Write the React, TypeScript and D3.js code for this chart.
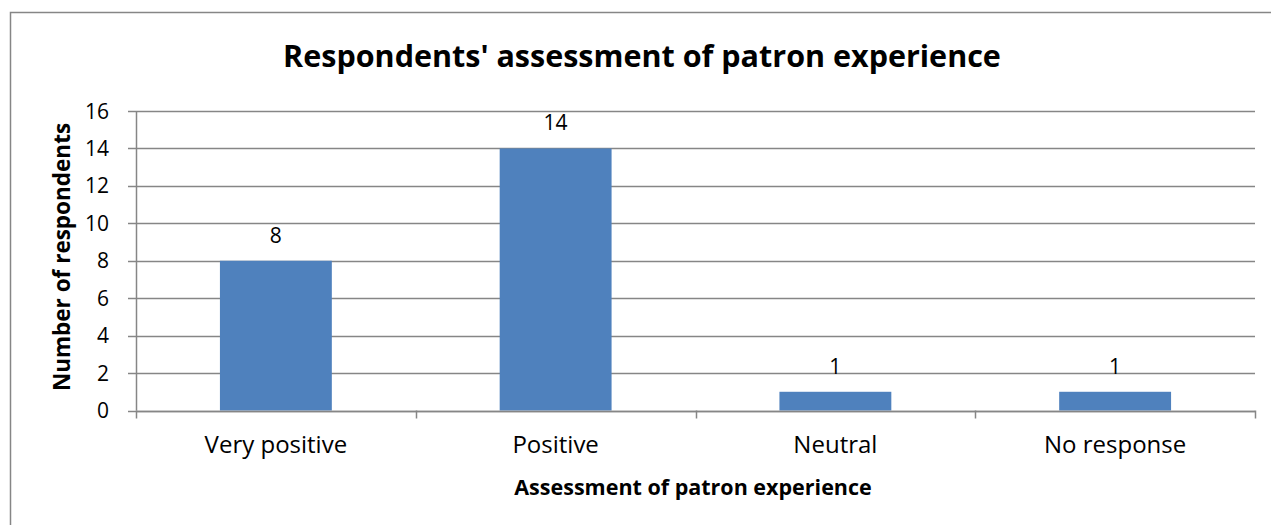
import * as d3 from 'd3';
import { useRef, useEffect } from 'react';

const categories = ['Very positive', 'Positive', 'Neutral', 'No response'];
const counts = [8, 14, 1, 1];
const yTicks = [0, 2, 4, 6, 8, 10, 12, 14, 16];

const title = "Respondents' assessment of patron experience";
const xTitle = 'Assessment of patron experience';
const yTitle = 'Number of respondents';

export default function App() {
  const ref = useRef<SVGSVGElement>(null);
  const width = 1271;
  const height = 525;
  const left = 136;
  const right = 1255;
  const top = 111;
  const bottom = 410.5;
  const grey = '#868686';
  const font = '"Open Sans", sans-serif';

  useEffect(() => {
    const svg = d3.select(ref.current);
    svg.selectAll('*').remove();

    const x = d3.scaleBand().domain(categories).range([left, right]).paddingInner(0.6).paddingOuter(0.3);
    const y = d3.scaleLinear().domain([0, 16]).range([bottom, top]);

    // chart border
    svg.append('rect')
      .attr('x', 10.5).attr('y', 12.5)
      .attr('width', 1300).attr('height', 600)
      .attr('fill', 'white').attr('stroke', grey).attr('stroke-width', 1.5);

    // gridlines + y ticks
    svg.append('g').selectAll('line')
      .data(yTicks)
      .join('line')
      .attr('x1', left - 8).attr('x2', right)
      .attr('y1', (d) => Math.round(y(d)) + 0.5).attr('y2', (d) => Math.round(y(d)) + 0.5)
      .attr('stroke', grey).attr('stroke-width', 1.5);

    svg.append('g').selectAll('text')
      .data(yTicks)
      .join('text')
      .attr('x', left - 27)
      .attr('y', (d) => y(d))
      .attr('dy', '0.36em')
      .attr('text-anchor', 'end')
      .attr('font-family', font).attr('font-size', 21)
      .text((d) => d);

    // bars
    svg.append('g').selectAll('rect')
      .data(counts)
      .join('rect')
      .attr('x', (d, i) => x(categories[i]) as number)
      .attr('width', x.bandwidth())
      .attr('y', (d) => y(d))
      .attr('height', (d) => y(0) - y(d))
      .attr('fill', '#4F81BD');

    // value labels
    svg.append('g').selectAll('text')
      .data(counts)
      .join('text')
      .attr('x', (d, i) => (x(categories[i]) as number) + x.bandwidth() / 2)
      .attr('y', (d) => y(d) - 18)
      .attr('text-anchor', 'middle')
      .attr('font-family', font).attr('font-size', 21)
      .text((d) => d);

    // axes lines
    svg.append('line')
      .attr('x1', left + 0.5).attr('x2', left + 0.5)
      .attr('y1', top).attr('y2', bottom)
      .attr('stroke', grey).attr('stroke-width', 1.5);

    const step = (right - left) / categories.length;
    const bounds = d3.range(categories.length + 1).map((i) => left + i * step);
    svg.append('line')
      .attr('x1', left).attr('x2', right)
      .attr('y1', Math.round(bottom) + 0.5).attr('y2', Math.round(bottom) + 0.5)
      .attr('stroke', grey).attr('stroke-width', 1.5);
    svg.append('g').selectAll('line')
      .data(bounds)
      .join('line')
      .attr('x1', (d) => Math.round(d) + 0.5).attr('x2', (d) => Math.round(d) + 0.5)
      .attr('y1', bottom).attr('y2', bottom + 8)
      .attr('stroke', grey).attr('stroke-width', 1.5);

    // category labels
    svg.append('g').selectAll('text')
      .data(categories)
      .join('text')
      .attr('x', (d) => (x(d) as number) + x.bandwidth() / 2)
      .attr('y', 453)
      .attr('text-anchor', 'middle')
      .attr('font-family', font).attr('font-size', 24)
      .text((d) => d);

    // titles
    svg.append('text')
      .attr('x', 642).attr('y', 67)
      .attr('text-anchor', 'middle')
      .attr('font-family', font).attr('font-size', 30.5).attr('font-weight', 'bold')
      .text(title);

    svg.append('text')
      .attr('x', 693).attr('y', 495)
      .attr('text-anchor', 'middle')
      .attr('font-family', font).attr('font-size', 21.5).attr('font-weight', 'bold')
      .text(xTitle);

    svg.append('text')
      .attr('transform', `translate(70,257) rotate(-90)`)
      .attr('text-anchor', 'middle')
      .attr('font-family', font).attr('font-size', 22.5).attr('font-weight', 'bold')
      .text(yTitle);
  });

  return (
    <div style={{ position: 'absolute', left: 0, top: 0 }}>
      <svg width={width} height={height} ref={ref} style={{ display: 'block' }} />
    </div>
  );
}
